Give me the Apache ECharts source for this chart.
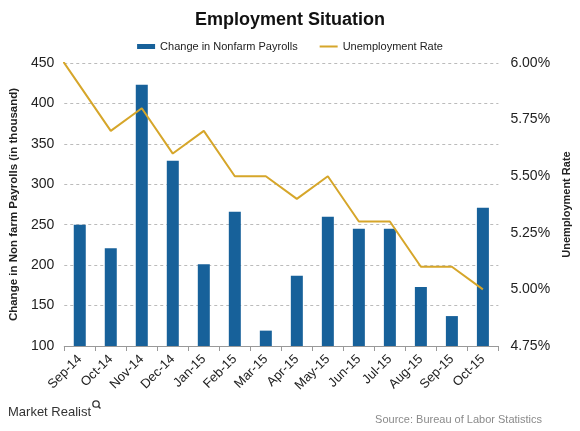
<!DOCTYPE html>
<html><head><meta charset="utf-8">
<script src="https://cdn.jsdelivr.net/npm/echarts@6/dist/echarts.min.js"></script>
<style>html,body{margin:0;padding:0;background:#fff}#c{width:580px;height:431px}</style>
</head><body><div id="c"></div>
<script>
var categories = ['Sep-14','Oct-14','Nov-14','Dec-14','Jan-15','Feb-15','Mar-15','Apr-15','May-15','Jun-15','Jul-15','Aug-15','Sep-15','Oct-15'];
var payrolls = [250, 221, 423, 329, 201, 266, 119, 187, 260, 245, 245, 173, 137, 271];
// unemployment line starts one month earlier (Aug-14), clipped by the plot edge
var rateCategories = ['Aug-14','Sep-14','Oct-14','Nov-14','Dec-14','Jan-15','Feb-15','Mar-15','Apr-15','May-15','Jun-15','Jul-15','Aug-15','Sep-15','Oct-15'];
var rates = [6.1, 5.9, 5.7, 5.8, 5.6, 5.7, 5.5, 5.5, 5.4, 5.5, 5.3, 5.3, 5.1, 5.1, 5.0];
var leftTicks = {min: 100, max: 450, interval: 50};
var rightTicks = {min: 4.75, max: 6.00, interval: 0.25};

var font = 'Liberation Sans, Arial, sans-serif';
var chart = echarts.init(document.getElementById('c'));
var lineData = rates.map(function (v, i) {
  var idx = categories.indexOf(rateCategories[i]);
  return [idx === -1 ? -1 : idx, v];
});
chart.setOption({
  animation: false,
  title: {text: 'Employment Situation', left: 'center', top: 6,
    textStyle: {fontFamily: font, fontSize: 18, fontWeight: 'bold', color: '#111'}},
  legend: {top: 36, left: 'center', itemGap: 22, itemWidth: 18, itemHeight: 5,
    textStyle: {fontFamily: font, fontSize: 11, color: '#222'},
    data: [
      {name: 'Change in Nonfarm Payrolls', icon: 'rect'},
      {name: 'Unemployment Rate', icon: 'path://M0,0h0.01v0.01h-0.01z M0,1.5h20v2h-20z M0,5h0.01v0.01h-0.01z'}
    ]},
  grid: {left: 64, right: 76, top: 63, bottom: 85},
  xAxis: [{
    type: 'category', data: categories,
    axisLine: {lineStyle: {color: '#999'}},
    axisTick: {show: true, length: 5, lineStyle: {color: '#999'}},
    axisLabel: {rotate: 45, fontFamily: font, fontSize: 13, color: '#222', margin: 11}
  }, {
    type: 'value', show: false, min: -0.5, max: categories.length - 0.5
  }],
  yAxis: [{
    type: 'value', min: leftTicks.min, max: leftTicks.max, interval: leftTicks.interval,
    name: 'Change in Non farm Payrolls (in thousand)', nameLocation: 'middle', nameGap: 41,
    nameTextStyle: {fontFamily: font, fontSize: 11.5, fontWeight: 'bold', color: '#222'},
    axisLine: {show: false}, axisTick: {show: false},
    axisLabel: {fontFamily: font, fontSize: 14, color: '#222', margin: 10},
    splitLine: {lineStyle: {color: '#bbb', type: [3, 3]}}
  }, {
    type: 'value', min: rightTicks.min, max: rightTicks.max, interval: rightTicks.interval,
    name: 'Unemployment Rate', nameLocation: 'middle', nameGap: 60, nameRotate: 90,
    nameTextStyle: {fontFamily: font, fontSize: 11, fontWeight: 'bold', color: '#222'},
    axisLine: {show: false}, axisTick: {show: false}, splitLine: {show: false},
    axisLabel: {fontFamily: font, fontSize: 14, color: '#222', margin: 12,
      formatter: function (v) { return v.toFixed(2) + '%'; }}
  }],
  series: [{
    name: 'Change in Nonfarm Payrolls', type: 'bar', data: payrolls, barWidth: 12,
    itemStyle: {color: '#17619a'}
  }, {
    name: 'Unemployment Rate', type: 'line', xAxisIndex: 1, yAxisIndex: 1, data: lineData,
    showSymbol: false, symbol: 'none', clip: true,
    lineStyle: {color: '#d6a62a', width: 2}, itemStyle: {color: '#d6a62a'}
  }],
  graphic: [
    {type: 'text', left: 8, top: 406, style: {text: 'Market Realist', font: '13px ' + font, fill: '#333'}},
    {type: 'circle', shape: {cx: 96, cy: 404, r: 3.2}, style: {fill: 'none', stroke: '#333', lineWidth: 1.3}},
    {type: 'line', shape: {x1: 98.3, y1: 406.3, x2: 100.5, y2: 408.5}, style: {stroke: '#333', lineWidth: 1.5}},
    {type: 'text', right: 38, top: 414, style: {text: 'Source: Bureau of Labor Statistics', font: '11px ' + font, fill: '#8a8a8a'}}
  ]
});
</script></body></html>
